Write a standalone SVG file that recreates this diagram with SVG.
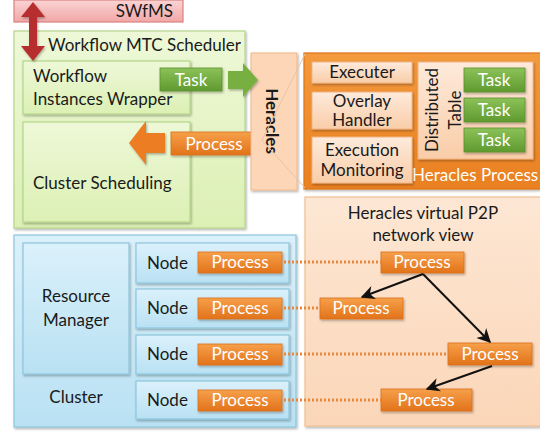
<svg xmlns="http://www.w3.org/2000/svg" width="540" height="433" viewBox="0 0 540 433">
<defs>
<linearGradient id="gPink" x1="0" y1="0" x2="0" y2="1"><stop offset="0" stop-color="#fbd3d3"/><stop offset="1" stop-color="#f2a7a7"/></linearGradient>
<linearGradient id="gGreenBg" x1="0" y1="0" x2="0" y2="1"><stop offset="0" stop-color="#eef8d8"/><stop offset="1" stop-color="#dcf0b4"/></linearGradient>
<linearGradient id="gGreen" x1="0" y1="0" x2="0" y2="1"><stop offset="0" stop-color="#8cc258"/><stop offset="1" stop-color="#5f9a2f"/></linearGradient>
<linearGradient id="gOrange" x1="0" y1="0" x2="0" y2="1"><stop offset="0" stop-color="#f6a04a"/><stop offset="1" stop-color="#e2731a"/></linearGradient>
<linearGradient id="gPeach" x1="0" y1="0" x2="0" y2="1"><stop offset="0" stop-color="#feeadb"/><stop offset="1" stop-color="#f9cda8"/></linearGradient>
<linearGradient id="gHP" x1="0" y1="0" x2="0" y2="1"><stop offset="0" stop-color="#f39a3e"/><stop offset="1" stop-color="#ea8020"/></linearGradient>
<linearGradient id="gBlue" x1="0" y1="0" x2="0" y2="1"><stop offset="0" stop-color="#dbf1fb"/><stop offset="1" stop-color="#b9e1f3"/></linearGradient>
<linearGradient id="gP2P" x1="0" y1="0" x2="0" y2="1"><stop offset="0" stop-color="#fde7d4"/><stop offset="1" stop-color="#fbd6b8"/></linearGradient>
<filter id="sh" x="-10%" y="-10%" width="130%" height="140%"><feDropShadow dx="1" dy="1.5" stdDeviation="1.2" flood-color="#000" flood-opacity="0.3"/></filter>
<marker id="ah" viewBox="0 0 10 10" refX="9" refY="5" markerWidth="7" markerHeight="7" orient="auto-start-reverse"><path d="M0,0 L10,5 L0,10 L3,5 z" fill="#111"/></marker>
</defs>
<style>
text{font-family:"Lato","Liberation Sans",sans-serif;font-size:17px;fill:#1a1a1a}
.w{fill:#fff}
.c{text-anchor:middle}
.green{fill:url(#gGreen);stroke:#5d8f30;stroke-width:0.8;filter:url(#sh)}
.orange{fill:url(#gOrange);stroke:#d9701c;stroke-width:0.8;filter:url(#sh)}
.peach{fill:url(#gPeach);stroke:#efb586;stroke-width:1;filter:url(#sh)}
.gbox{fill:url(#gGreenBg);stroke:#b4d68a;stroke-width:1.2}
.bbox{fill:url(#gBlue);stroke:#8dc6de;stroke-width:1.2}
.dot{stroke:#e8883a;stroke-width:3;stroke-dasharray:2 2;fill:none}
.blk{stroke:#111;stroke-width:2;fill:none;marker-end:url(#ah)}
</style>

<g id="swfms">
<rect x="14" y="0" width="169" height="22" fill="url(#gPink)" stroke="#d98080" stroke-width="1.2"/>
<text x="173" y="17" text-anchor="end">SWfMS</text>
</g>

<g id="mtc-scheduler">
<rect x="14" y="31" width="231" height="197" class="gbox" filter="url(#sh)"/>
<text x="48" y="51" font-size="18">Workflow MTC Scheduler</text>
</g>

<g id="wrapper">
<rect x="23" y="61" width="167" height="53" class="gbox" filter="url(#sh)"/>
<text x="33" y="82">Workflow</text>
<text x="33" y="105">Instances Wrapper</text>
</g>

<g id="cluster-scheduling">
<rect x="23" y="122" width="167" height="100" class="gbox" filter="url(#sh)"/>
<text x="33" y="189">Cluster Scheduling</text>
</g>

<g id="red-arrow">
<path d="M33,2 L45,17 L37,17 L37,46 L45,46 L33,61 L21,46 L29,46 L29,17 L21,17 Z" fill="#b72f2f" filter="url(#sh)"/>
</g>

<g id="task-label">
<rect x="160" y="68" width="62" height="23" class="green"/>
<text x="191" y="86" class="w c">Task</text>
</g>

<g id="process-label">
<rect x="171" y="132" width="87" height="23" class="orange"/>
<text x="214" y="150" class="w c">Process</text>
</g>

<g id="heracles">
<rect x="251" y="53" width="46" height="137" fill="#fcd6b7" stroke="#f0b88a" stroke-width="1" filter="url(#sh)"/>
<text transform="translate(266,121) rotate(90)" class="c" font-weight="bold" font-size="19">Heracles</text>
</g>

<g id="heracles-process">
<rect x="304" y="53" width="240" height="136" fill="url(#gHP)" stroke="#e07516" stroke-width="1.2" filter="url(#sh)"/>
<text x="412" y="181" class="w" font-size="18">Heracles Process</text>
</g>

<g id="executer">
<rect x="312" y="62" width="100" height="21" class="peach"/>
<text x="362" y="78" class="c">Executer</text>
</g>

<g id="overlay-handler">
<rect x="312" y="92" width="100" height="37" class="peach"/>
<text x="362" y="107" class="c" font-size="16">Overlay</text>
<text x="362" y="126" class="c" font-size="16">Handler</text>
</g>

<g id="execution-monitoring">
<rect x="312" y="137" width="100" height="46" class="peach"/>
<text x="362" y="156" class="c" font-size="15">Execution</text>
<text x="362" y="176" class="c" font-size="15">Monitoring</text>
</g>

<g id="distributed-table">
<rect x="418" y="62" width="115" height="97" class="peach"/>
<text transform="translate(438,110) rotate(-90)" class="c">Distributed</text>
<text transform="translate(461,110) rotate(-90)" class="c">Table</text>
</g>

<g id="task-1"><rect x="464" y="68" width="61" height="24" class="green"/><text x="494" y="86" class="w c">Task</text></g>
<g id="task-2"><rect x="464" y="98" width="61" height="24" class="green"/><text x="494" y="116" class="w c">Task</text></g>
<g id="task-3"><rect x="464" y="128" width="61" height="24" class="green"/><text x="494" y="146" class="w c">Task</text></g>

<g id="cluster">
<rect x="14" y="235" width="282" height="192" class="bbox" filter="url(#sh)"/>
<text x="76" y="403" class="c">Cluster</text>
</g>

<g id="resource-manager">
<rect x="23" y="243" width="106" height="131" class="bbox" filter="url(#sh)"/>
<text x="76" y="302" class="c">Resource</text>
<text x="76" y="326" class="c">Manager</text>
</g>

<g id="node-1"><rect x="136" y="243" width="153" height="40" class="bbox" filter="url(#sh)"/><text x="147" y="269">Node</text><rect x="198" y="252" width="84" height="21" class="orange"/><text x="240" y="268" class="w c">Process</text></g>
<g id="node-2"><rect x="136" y="289" width="153" height="39" class="bbox" filter="url(#sh)"/><text x="147" y="314">Node</text><rect x="198" y="298" width="84" height="21" class="orange"/><text x="240" y="314" class="w c">Process</text></g>
<g id="node-3"><rect x="136" y="335" width="153" height="39" class="bbox" filter="url(#sh)"/><text x="147" y="360">Node</text><rect x="198" y="344" width="84" height="21" class="orange"/><text x="240" y="360" class="w c">Process</text></g>
<g id="node-4"><rect x="136" y="381" width="153" height="38" class="bbox" filter="url(#sh)"/><text x="147" y="406">Node</text><rect x="198" y="390" width="84" height="21" class="orange"/><text x="240" y="406" class="w c">Process</text></g>

<g id="p2p-view">
<rect x="305" y="197" width="240" height="229" fill="url(#gP2P)" stroke="#f0c091" stroke-width="1.2" filter="url(#sh)"/>
<text x="423" y="219" class="c">Heracles virtual P2P</text>
<text x="423" y="241" class="c">network view</text>
</g>

<g id="p2p-process-1"><rect x="381" y="252" width="83" height="21" class="orange"/><text x="422" y="268" class="w c">Process</text></g>
<g id="p2p-process-2"><rect x="320" y="298" width="83" height="21" class="orange"/><text x="361" y="314" class="w c">Process</text></g>
<g id="p2p-process-3"><rect x="448" y="343" width="84" height="22" class="orange"/><text x="490" y="360" class="w c">Process</text></g>
<g id="p2p-process-4"><rect x="381" y="389" width="91" height="22" class="orange"/><text x="426" y="406" class="w c">Process</text></g>

<g id="connectors">
<path d="M228,71 L243,71 L243,63 L258,80 L243,97 L243,89 L228,89 Z" fill="#77b03f" filter="url(#sh)"/>
<path d="M165,133 L146,133 L146,121 L129,143 L146,165 L146,153 L165,153 Z" fill="#ec7d22" filter="url(#sh)"/>
<line x1="262" y1="140" x2="305" y2="54" stroke="#e9c3a2" stroke-width="1"/>
<line x1="262" y1="140" x2="305" y2="188" stroke="#e9c3a2" stroke-width="1"/>
<line x1="284" y1="262" x2="381" y2="262" class="dot"/>
<line x1="284" y1="308" x2="320" y2="308" class="dot"/>
<line x1="284" y1="354" x2="448" y2="354" class="dot"/>
<line x1="284" y1="400" x2="381" y2="400" class="dot"/>
<line x1="423" y1="274" x2="362" y2="297" class="blk"/>
<line x1="423" y1="274" x2="490" y2="342" class="blk"/>
<line x1="492" y1="366" x2="427" y2="389" class="blk"/>
</g>
</svg>
